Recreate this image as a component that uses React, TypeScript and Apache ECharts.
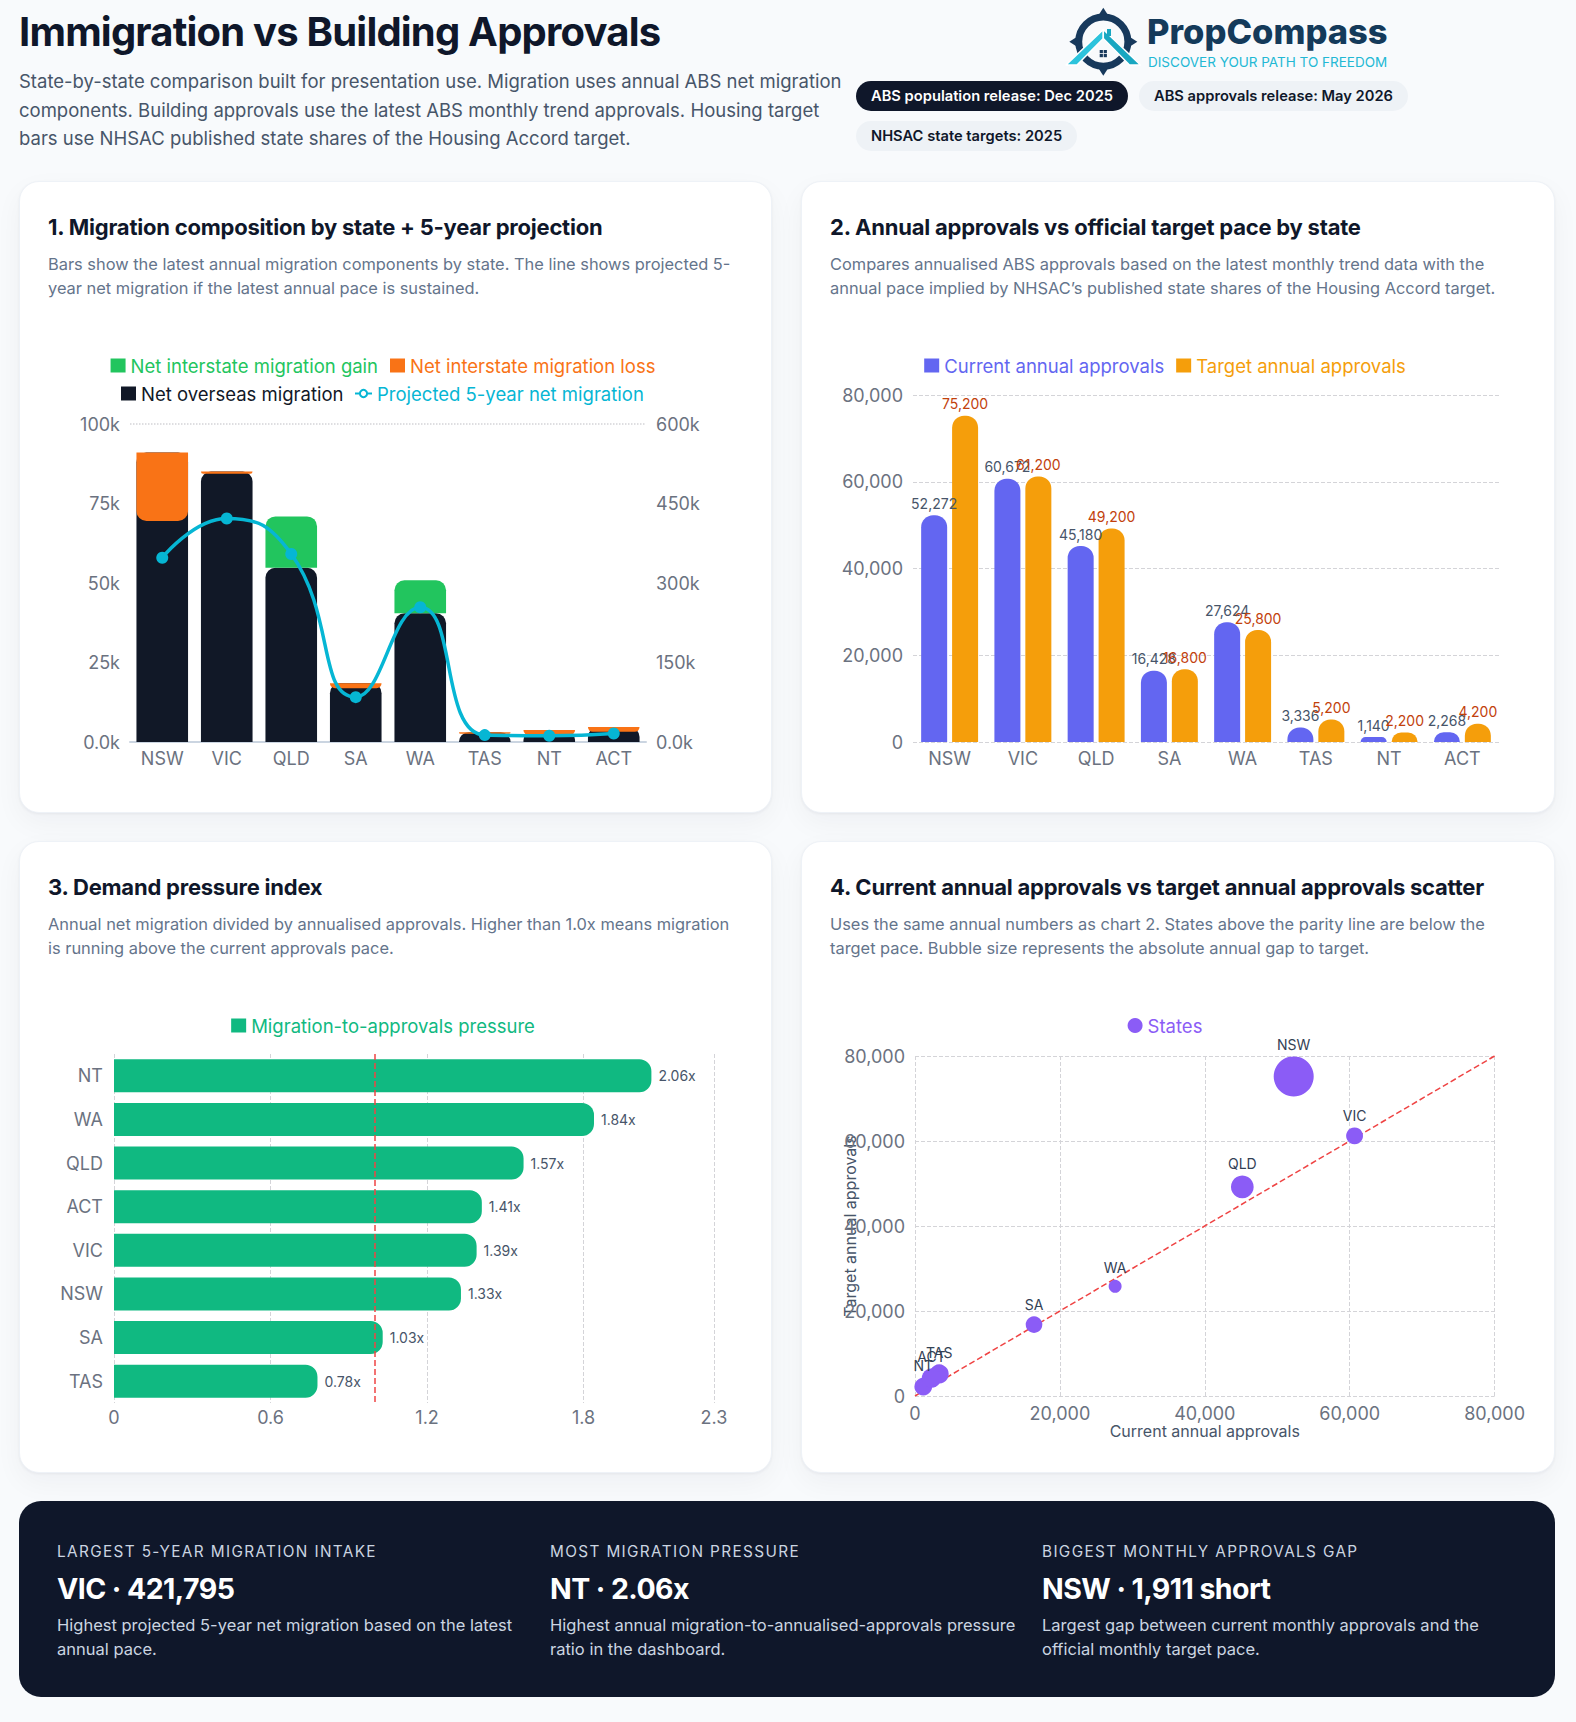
import React, { useEffect, useRef } from 'react';
import * as echarts from 'echarts';

// ---------- data ----------
const STATES = ['NSW', 'VIC', 'QLD', 'SA', 'WA', 'TAS', 'NT', 'ACT'];

// Annual components (people)
const NET_OVERSEAS = [91000, 85050, 54800, 18500, 40500, 3100, 3750, 4700];
const NET_INTERSTATE = [-21478, -691, 16130, -1580, 10330, -500, -1400, -1500];
const PROJECTED_5YR = [347610, 421795, 354650, 84600, 254150, 13000, 11750, 16000];

// Annualised approvals vs NHSAC target pace
const CURRENT_APPROVALS = [52272, 60672, 45180, 16428, 27624, 3336, 1140, 2268];
const TARGET_APPROVALS = [75200, 61200, 49200, 16800, 25800, 5200, 2200, 4200];

// Demand pressure (sorted high to low)
const PRESSURE_STATES = ['NT', 'WA', 'QLD', 'ACT', 'VIC', 'NSW', 'SA', 'TAS'];
const PRESSURE = [2.06, 1.84, 1.57, 1.41, 1.39, 1.33, 1.03, 0.78];

const FONT = "Inter, 'Noto Sans', sans-serif";
const AXIS_GREY = '#6b7280';
const GRID_GREY = '#d4d4d8';
const AXIS_FONT = 18;
const LEGEND_FONT = 18.5;

// ---------- chart options ----------
const kFormatter = (v: number) => (v === 0 ? '0.0k' : `${v / 1000}k`);
const commaFormatter = (v: number) => v.toLocaleString('en-US');

const legendText = (color: string) => ({ color, fontSize: LEGEND_FONT, fontFamily: FONT });

const migrationOption = {
  animation: false,
  textStyle: { fontFamily: FONT },
  legend: [
    {
      top: 39,
      left: 'center',
      itemWidth: 15,
      itemHeight: 14,
      itemGap: 12,
      data: [
        { name: 'Net interstate migration gain', icon: 'rect', textStyle: legendText('#22c55e') },
        { name: 'Net interstate migration loss', icon: 'rect', textStyle: legendText('#f97316') },
      ],
    },
    {
      top: 67,
      left: 96,
      itemWidth: 15,
      itemHeight: 14,
      data: [{ name: 'Net overseas migration', icon: 'rect', textStyle: legendText('#111827') }],
    },
    {
      top: 67,
      left: 329,
      itemWidth: 17,
      itemHeight: 9,
      data: [
        {
          name: 'Projected 5-year net migration',
          textStyle: legendText('#06b6d4'),
          itemStyle: { color: '#ffffff', borderColor: '#06b6d4', borderWidth: 2 },
        },
      ],
    },
  ],
  grid: { left: 110, right: 100, top: 112, bottom: 72 },
  xAxis: {
    type: 'category',
    data: STATES,
    axisTick: { show: false },
    axisLine: { lineStyle: { color: '#cbd5e1', width: 2 } },
    axisLabel: { color: AXIS_GREY, fontSize: AXIS_FONT, margin: 7 },
  },
  yAxis: [
    {
      type: 'value',
      min: 0,
      max: 100000,
      interval: 25000,
      splitLine: { show: false },
      axisLabel: { color: AXIS_GREY, fontSize: AXIS_FONT, margin: 10, formatter: kFormatter },
    },
    {
      type: 'value',
      min: 0,
      max: 600000,
      interval: 150000,
      splitLine: { show: false },
      axisLabel: { color: AXIS_GREY, fontSize: AXIS_FONT, margin: 10, formatter: kFormatter },
    },
  ],
  series: [
    {
      name: 'Net overseas migration',
      type: 'bar',
      stack: 'migration',
      stackStrategy: 'all',
      barCategoryGap: '20%',
      data: NET_OVERSEAS,
      itemStyle: { color: '#111827', borderRadius: [10, 10, 0, 0] },
      markLine: {
        silent: true,
        symbol: 'none',
        label: { show: false },
        lineStyle: { color: GRID_GREY, type: 'dotted', width: 1.5 },
        data: [{ yAxis: 100000 }],
      },
    },
    {
      name: 'Net interstate migration gain',
      type: 'bar',
      stack: 'migration',
      stackStrategy: 'all',
      data: NET_INTERSTATE.map((v) => (v > 0 ? v : 0)),
      itemStyle: { color: '#22c55e', borderRadius: [10, 10, 0, 0] },
    },
    {
      name: 'Net interstate migration loss',
      type: 'bar',
      stack: 'migration',
      stackStrategy: 'all',
      data: NET_INTERSTATE.map((v) => (v < 0 ? v : 0)),
      itemStyle: { color: '#f97316', borderRadius: [0, 0, 10, 10] },
    },
    {
      name: 'Projected 5-year net migration',
      type: 'line',
      yAxisIndex: 1,
      smooth: true,
      symbol: 'circle',
      symbolSize: 12,
      z: 10,
      data: PROJECTED_5YR,
      lineStyle: { color: '#06b6d4', width: 3.5 },
      itemStyle: { color: '#06b6d4' },
    },
  ],
};

const approvalsOption = {
  animation: false,
  textStyle: { fontFamily: FONT },
  legend: {
    top: 39,
    left: 'center',
    itemWidth: 15,
    itemHeight: 14,
    itemGap: 12,
    data: [
      { name: 'Current annual approvals', icon: 'rect', textStyle: legendText('#6366f1') },
      { name: 'Target annual approvals', icon: 'rect', textStyle: legendText('#f59e0b') },
    ],
  },
  grid: { left: 111, right: 29, top: 83, bottom: 72 },
  xAxis: {
    type: 'category',
    data: STATES,
    axisTick: { show: false },
    axisLine: { show: false },
    axisLabel: { color: AXIS_GREY, fontSize: AXIS_FONT, margin: 7 },
  },
  yAxis: {
    type: 'value',
    min: 0,
    max: 80000,
    interval: 20000,
    splitLine: { lineStyle: { color: GRID_GREY, type: 'dashed' } },
    axisLabel: { color: AXIS_GREY, fontSize: AXIS_FONT, margin: 10, formatter: commaFormatter },
  },
  series: [
    {
      name: 'Current annual approvals',
      type: 'bar',
      barWidth: 26,
      barGap: '19%',
      data: CURRENT_APPROVALS,
      itemStyle: { color: '#6366f1', borderRadius: [12, 12, 0, 0] },
      label: {
        show: true,
        position: 'top',
        color: '#475569',
        fontSize: 14,
        formatter: (p: any) => commaFormatter(p.value),
      },
    },
    {
      name: 'Target annual approvals',
      type: 'bar',
      barWidth: 26,
      data: TARGET_APPROVALS,
      itemStyle: { color: '#f59e0b', borderRadius: [12, 12, 0, 0] },
      label: {
        show: true,
        position: 'top',
        color: '#c2410c',
        fontSize: 14,
        formatter: (p: any) => commaFormatter(p.value),
      },
    },
  ],
};

const pressureOption = {
  animation: false,
  textStyle: { fontFamily: FONT },
  legend: {
    top: 39,
    left: 'center',
    itemWidth: 15,
    itemHeight: 14,
    data: [{ name: 'Migration-to-approvals pressure', icon: 'rect', textStyle: legendText('#10b981') }],
  },
  grid: { left: 94, right: 32, top: 82, bottom: 71 },
  xAxis: {
    type: 'value',
    min: 0,
    max: 2.3,
    interval: 0.6,
    axisLine: { show: false },
    splitLine: { lineStyle: { color: GRID_GREY, type: 'dashed' } },
    axisLabel: { color: AXIS_GREY, fontSize: AXIS_FONT, margin: 5 },
  },
  yAxis: {
    type: 'category',
    inverse: true,
    data: PRESSURE_STATES,
    axisTick: { show: false },
    axisLine: { show: false },
    axisLabel: { color: AXIS_GREY, fontSize: AXIS_FONT, margin: 11 },
  },
  series: [
    {
      name: 'Migration-to-approvals pressure',
      type: 'bar',
      barWidth: 33,
      data: PRESSURE,
      itemStyle: { color: '#10b981', borderRadius: [0, 12, 12, 0] },
      label: {
        show: true,
        position: 'right',
        distance: 7,
        color: '#475569',
        fontSize: 14,
        formatter: (p: any) => `${p.value.toFixed(2)}x`,
      },
      markLine: {
        silent: true,
        symbol: 'none',
        label: { show: false },
        lineStyle: { color: '#ef4444', type: 'dashed', width: 1.5 },
        data: [{ xAxis: 1 }],
      },
    },
  ],
};

const scatterOption = {
  animation: false,
  textStyle: { fontFamily: FONT },
  legend: {
    top: 39,
    left: 'center',
    itemWidth: 15,
    itemHeight: 15,
    data: [{ name: 'States', icon: 'circle', textStyle: legendText('#8b5cf6') }],
  },
  grid: { left: 113, right: 25, top: 84, bottom: 78 },
  xAxis: {
    type: 'value',
    min: 0,
    max: 80000,
    interval: 20000,
    name: 'Current annual approvals',
    nameLocation: 'middle',
    nameGap: 27,
    nameMoveOverlap: false,
    nameTextStyle: { color: '#475569', fontSize: 16 },
    axisLine: { show: false },
    axisTick: { show: false },
    splitLine: { lineStyle: { color: GRID_GREY, type: 'dashed' } },
    axisLabel: { color: AXIS_GREY, fontSize: AXIS_FONT, margin: 8, formatter: commaFormatter },
  },
  yAxis: {
    type: 'value',
    min: 0,
    max: 80000,
    interval: 20000,
    name: 'Target annual approvals',
    nameLocation: 'middle',
    nameGap: 57,
    nameMoveOverlap: false,
    nameTextStyle: { color: '#475569', fontSize: 16 },
    axisLine: { show: false },
    axisTick: { show: false },
    splitLine: { lineStyle: { color: GRID_GREY, type: 'dashed' } },
    axisLabel: { color: AXIS_GREY, fontSize: AXIS_FONT, margin: 10, formatter: commaFormatter },
  },
  series: [
    {
      name: 'Parity',
      type: 'line',
      silent: true,
      symbol: 'none',
      z: 1,
      data: [
        [0, 0],
        [80000, 80000],
      ],
      lineStyle: { color: '#ef4444', type: 'dashed', width: 1.5 },
    },
    {
      name: 'States',
      type: 'scatter',
      z: 3,
      data: STATES.map((s, i) => [CURRENT_APPROVALS[i], TARGET_APPROVALS[i], s]),
      symbolSize: (v: any[]) => Math.max(10, Math.min(40, 16 + (v[1] - v[0]) / 600)),
      itemStyle: { color: '#8b5cf6', opacity: 1 },
      label: {
        show: true,
        position: 'top',
        color: '#334155',
        fontSize: 14,
        formatter: (p: any) => p.value[2],
      },
    },
  ],
};

// ---------- components ----------
function EChart({ option, style }: { option: any; style: React.CSSProperties }) {
  const ref = useRef<HTMLDivElement>(null);
  useEffect(() => {
    const chart = echarts.init(ref.current as HTMLDivElement, null, { renderer: 'svg' });
    chart.setOption(option);
    return () => chart.dispose();
  }, [option]);
  return <div ref={ref} style={style} />;
}

function Card({
  left,
  top,
  width,
  title,
  lines,
  option,
}: {
  left: number;
  top: number;
  width: number;
  title: string;
  lines: string[];
  option: any;
}) {
  return (
    <div
      style={{
        position: 'absolute',
        left,
        top,
        width,
        height: 632,
        background: '#ffffff',
        borderRadius: 20,
        boxShadow: '0 1px 3px rgba(15,23,42,0.05), 0 10px 28px rgba(15,23,42,0.045)',
        border: '1px solid #eef2f7',
        boxSizing: 'border-box',
      }}
    >
      <div
        style={{
          position: 'absolute',
          left: 28,
          top: 30,
          fontSize: 22,
          lineHeight: '30px',
          fontWeight: 700,
          letterSpacing: '-0.01em',
          color: '#0f172a',
          whiteSpace: 'nowrap',
        }}
      >
        {title}
      </div>
      <div
        style={{
          position: 'absolute',
          left: 28,
          top: 70,
          fontSize: 16.4,
          lineHeight: '24px',
          color: '#64748b',
          whiteSpace: 'nowrap',
        }}
      >
        {lines.map((l) => (
          <div key={l}>{l}</div>
        ))}
      </div>
      <EChart option={option} style={{ position: 'absolute', left: 0, top: 130, width: 726, height: 502 }} />
    </div>
  );
}

function Pill({ left, top, text, dark }: { left: number; top: number; text: string; dark?: boolean }) {
  return (
    <div
      style={{
        position: 'absolute',
        left,
        top,
        height: 30,
        lineHeight: '30px',
        padding: '0 15px',
        borderRadius: 15,
        fontSize: 14.7,
        fontWeight: 600,
        whiteSpace: 'nowrap',
        background: dark ? '#0f172a' : '#eef2f6',
        color: dark ? '#ffffff' : '#0f172a',
      }}
    >
      {text}
    </div>
  );
}

function Logo() {
  const cx = 1103.3;
  const cy = 41.7;
  const navy = '#17395c';
  return (
    <svg
      style={{ position: 'absolute', left: 1064, top: 2, overflow: 'visible' }}
      width={80}
      height={80}
      viewBox="1064 2 80 80"
    >
      <circle cx={cx} cy={cy} r={24.6} fill="none" stroke={navy} strokeWidth={7} />
      <polygon points={`${cx - 4.5},${cy - 27} ${cx + 4.5},${cy - 27} ${cx},${cy - 34}`} fill={navy} />
      <polygon points={`${cx - 4.5},${cy + 27} ${cx + 4.5},${cy + 27} ${cx},${cy + 34}`} fill={navy} />
      <polygon points={`${cx - 27},${cy - 4.5} ${cx - 27},${cy + 4.5} ${cx - 34},${cy}`} fill={navy} />
      <polygon points={`${cx + 27},${cy - 4.5} ${cx + 27},${cy + 4.5} ${cx + 34},${cy}`} fill={navy} />
      <polygon
        points={`1066,65 ${cx},29.5 ${cx},38.5 1077,65`}
        fill="#2cc3dc"
        stroke="#ffffff"
        strokeWidth={1.5}
        strokeLinejoin="round"
      />
      <polygon
        points={`${cx},29.5 1140.5,65 1129.5,65 ${cx},38.5`}
        fill="#19a7c1"
        stroke="#ffffff"
        strokeWidth={1.5}
        strokeLinejoin="round"
      />
      <rect x={1107} y={29} width={4} height={7} fill="#19a7c1" />
      <rect x={cx - 3.6} y={50} width={3.2} height={3.2} fill={navy} />
      <rect x={cx + 0.4} y={50} width={3.2} height={3.2} fill={navy} />
      <rect x={cx - 3.6} y={54} width={3.2} height={3.2} fill={navy} />
      <rect x={cx + 0.4} y={54} width={3.2} height={3.2} fill={navy} />
    </svg>
  );
}

function Stat({ left, label, value, lines }: { left: number; label: string; value: string; lines: string[] }) {
  return (
    <div style={{ position: 'absolute', left, top: 0 }}>
      <div
        style={{
          position: 'absolute',
          top: 42,
          fontSize: 15.3,
          lineHeight: '18px',
          letterSpacing: '0.09em',
          color: '#cbd5e1',
          whiteSpace: 'nowrap',
        }}
      >
        {label}
      </div>
      <div
        style={{
          position: 'absolute',
          top: 71,
          fontSize: 28.5,
          lineHeight: '34px',
          fontWeight: 700,
          letterSpacing: '-0.02em',
          color: '#ffffff',
          whiteSpace: 'nowrap',
        }}
      >
        {value}
      </div>
      <div
        style={{
          position: 'absolute',
          top: 112,
          fontSize: 16.5,
          lineHeight: '24px',
          color: '#cbd5e1',
          whiteSpace: 'nowrap',
        }}
      >
        {lines.map((l) => (
          <div key={l}>{l}</div>
        ))}
      </div>
    </div>
  );
}

export default function App() {
  return (
    <div
      style={{
        position: 'relative',
        width: 1576,
        height: 1722,
        background: '#f8fafc',
        fontFamily: FONT,
        overflow: 'hidden',
      }}
    >
      <style>{'html,body{margin:0;padding:0;background:#f8fafc;}'}</style>

      <div
        style={{
          position: 'absolute',
          left: 19,
          top: 12,
          fontSize: 40,
          lineHeight: '40px',
          fontWeight: 700,
          letterSpacing: '-0.02em',
          color: '#0f172a',
          whiteSpace: 'nowrap',
        }}
      >
        Immigration vs Building Approvals
      </div>
      <div
        style={{
          position: 'absolute',
          left: 19,
          top: 67,
          fontSize: 18.5,
          lineHeight: '28.5px',
          color: '#475569',
          whiteSpace: 'nowrap',
        }}
      >
        <div>State-by-state comparison built for presentation use. Migration uses annual ABS net migration</div>
        <div>components. Building approvals use the latest ABS monthly trend approvals. Housing target</div>
        <div>bars use NHSAC published state shares of the Housing Accord target.</div>
      </div>

      <Logo />
      <div
        style={{
          position: 'absolute',
          left: 1147,
          top: 14,
          fontSize: 34.5,
          lineHeight: '36px',
          fontWeight: 800,
          color: '#143a5a',
          whiteSpace: 'nowrap',
        }}
      >
        PropCompass
      </div>
      <div
        style={{
          position: 'absolute',
          left: 1148,
          top: 53,
          fontSize: 13.5,
          lineHeight: '18px',
          letterSpacing: '0',
          color: '#22b8d4',
          whiteSpace: 'nowrap',
        }}
      >
        DISCOVER YOUR PATH TO FREEDOM
      </div>

      <Pill left={856} top={81} text="ABS population release: Dec 2025" dark />
      <Pill left={1139} top={81} text="ABS approvals release: May 2026" />
      <Pill left={856} top={121} text="NHSAC state targets: 2025" />

      <Card
        left={19}
        top={181}
        width={753}
        title="1. Migration composition by state + 5-year projection"
        lines={[
          'Bars show the latest annual migration components by state. The line shows projected 5-',
          'year net migration if the latest annual pace is sustained.',
        ]}
        option={migrationOption}
      />
      <Card
        left={801}
        top={181}
        width={754}
        title="2. Annual approvals vs official target pace by state"
        lines={[
          'Compares annualised ABS approvals based on the latest monthly trend data with the',
          'annual pace implied by NHSAC\u2019s published state shares of the Housing Accord target.',
        ]}
        option={approvalsOption}
      />
      <Card
        left={19}
        top={841}
        width={753}
        title="3. Demand pressure index"
        lines={[
          'Annual net migration divided by annualised approvals. Higher than 1.0x means migration',
          'is running above the current approvals pace.',
        ]}
        option={pressureOption}
      />
      <Card
        left={801}
        top={841}
        width={754}
        title="4. Current annual approvals vs target annual approvals scatter"
        lines={[
          'Uses the same annual numbers as chart 2. States above the parity line are below the',
          'target pace. Bubble size represents the absolute annual gap to target.',
        ]}
        option={scatterOption}
      />

      <div
        style={{
          position: 'absolute',
          left: 19,
          top: 1501,
          width: 1536,
          height: 196,
          background: '#0f172a',
          borderRadius: 22,
        }}
      >
        <Stat
          left={38}
          label="LARGEST 5-YEAR MIGRATION INTAKE"
          value="VIC · 421,795"
          lines={['Highest projected 5-year net migration based on the latest', 'annual pace.']}
        />
        <Stat
          left={531}
          label="MOST MIGRATION PRESSURE"
          value="NT · 2.06x"
          lines={['Highest annual migration-to-annualised-approvals pressure', 'ratio in the dashboard.']}
        />
        <Stat
          left={1023}
          label="BIGGEST MONTHLY APPROVALS GAP"
          value="NSW · 1,911 short"
          lines={['Largest gap between current monthly approvals and the', 'official monthly target pace.']}
        />
      </div>
    </div>
  );
}
